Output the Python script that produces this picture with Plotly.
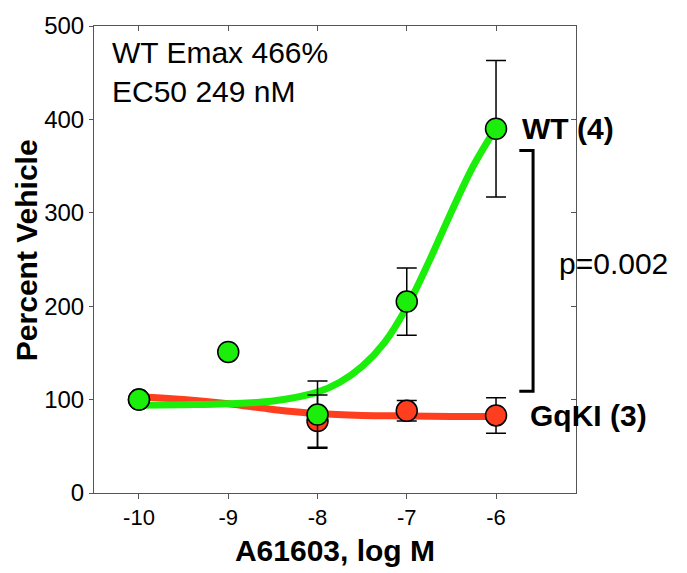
import plotly.graph_objects as go

# ---- data ----
dose_log_M = [-10, -9, -8, -7, -6]

wt_x = [-10, -9, -8, -7, -6]
wt_mean = [100, 151, 84, 205, 390]
wt_err = [0, 0, 36, 36, 73]

gq_x = [-10, -8, -7, -6]
gq_mean = [100, 77, 88, 83]
gq_err = [0, 28, 11, 19]

# fitted curves
wt_fit_x = [-10, -9.5, -9, -8.5, -8, -7.75, -7.5, -7.25, -7, -6.75, -6.5, -6.25, -6]
wt_fit_y = [94, 94.5, 95.5, 98.5, 108, 118.5, 135.5, 161, 199, 248, 301, 351, 391]

gq_fit_x = [-10, -9.5, -9, -8.5, -8, -7.5, -7, -6.5, -6]
gq_fit_y = [103, 100, 95.5, 89.5, 85, 83, 82.5, 82, 82]

y_ticks = [0, 100, 200, 300, 400, 500]

FONT = "Liberation Sans, Arial, Helvetica, sans-serif"
GREEN = "#1aee0a"
RED = "#ff3d1f"
AX = "#555555"

fig = go.Figure()

fig.add_trace(go.Scatter(x=gq_fit_x, y=gq_fit_y, mode="lines",
                         line=dict(color=RED, width=7, shape="spline"),
                         hoverinfo="skip", showlegend=False))
fig.add_trace(go.Scatter(x=wt_fit_x, y=wt_fit_y, mode="lines",
                         line=dict(color=GREEN, width=7, shape="spline"),
                         hoverinfo="skip", showlegend=False))
fig.add_trace(go.Scatter(x=gq_x, y=gq_mean, mode="markers", name="GqKI (3)",
                         marker=dict(size=21, color=RED, line=dict(color="black", width=1.5)),
                         error_y=dict(type="data", array=gq_err, color="black", thickness=1.5, width=10),
                         showlegend=False))
fig.add_trace(go.Scatter(x=wt_x, y=wt_mean, mode="markers", name="WT (4)",
                         marker=dict(size=21, color=GREEN, line=dict(color="black", width=1.5)),
                         error_y=dict(type="data", array=wt_err, color="black", thickness=1.5, width=10),
                         showlegend=False))
# invisible trace on the mirror axes (top / right inside ticks)
fig.add_trace(go.Scatter(x=[-10], y=[0], xaxis="x2", yaxis="y2", mode="markers",
                         marker=dict(opacity=0), hoverinfo="skip", showlegend=False))

xr = [-10.504, -5.104]
yr = [0, 500]

fig.update_layout(
    width=687, height=573,
    margin=dict(l=94, r=111, t=13, b=78),
    plot_bgcolor="white", paper_bgcolor="white",
    font=dict(family=FONT, color="black"),
    xaxis=dict(range=xr, tickvals=dose_log_M, ticktext=[str(v) for v in dose_log_M],
               ticks="outside", ticklen=5, tickcolor=AX, tickwidth=1,
               showline=True, linecolor=AX, linewidth=1, showgrid=False, zeroline=False,
               tickfont=dict(size=22, family=FONT, color="black"),
               title=dict(text="<b>A61603, log M</b>", font=dict(size=30, family=FONT), standoff=10)),
    yaxis=dict(range=yr, tickvals=y_ticks, ticks="outside", ticklen=4, tickcolor=AX, tickwidth=1,
               showline=True, linecolor=AX, linewidth=1, showgrid=False, zeroline=False,
               ticklabeloverflow="allow",
               tickfont=dict(size=24, family=FONT, color="black")),
    xaxis2=dict(range=xr, overlaying="x", side="top", tickvals=dose_log_M, ticks="inside",
                ticklen=5, tickcolor=AX, showticklabels=False, showline=True, linecolor=AX,
                linewidth=1, showgrid=False, zeroline=False),
    yaxis2=dict(range=yr, overlaying="y", side="right", tickvals=y_ticks, ticks="inside",
                ticklen=5, tickcolor=AX, showticklabels=False, showline=True, linecolor=AX,
                linewidth=1, showgrid=False, zeroline=False),
)

# significance bracket
fig.add_shape(type="path", xref="x", yref="y",
              path="M -5.739,366.7 L -5.585,366.7 L -5.585,109 L -5.739,109",
              line=dict(color="black", width=3))

ann = [
    dict(x=-5.731, y=390, text="<b>WT (4)</b>", xanchor="left", yanchor="middle",
         font=dict(size=30)),
    dict(x=-5.641, y=83, text="<b>GqKI (3)</b>", xanchor="left", yanchor="middle",
         font=dict(size=30)),
    dict(x=-5.317, y=246, text="p=0.002", xanchor="left", yanchor="middle",
         font=dict(size=30)),
    dict(x=-10.33, y=451, text="WT Emax 466%<br>EC50 249 nM", xanchor="left", yanchor="middle",
         align="left", font=dict(size=30)),
]
for a in ann:
    a.update(xref="x", yref="y", showarrow=False)
    fig.add_annotation(**a)

fig.add_annotation(xref="paper", yref="paper", x=0, xshift=-68, y=0.52, xanchor="center",
                   yanchor="middle", textangle=-90, showarrow=False,
                   text="<b>Percent Vehicle</b>", font=dict(size=30))

fig.write_html("out.html")
